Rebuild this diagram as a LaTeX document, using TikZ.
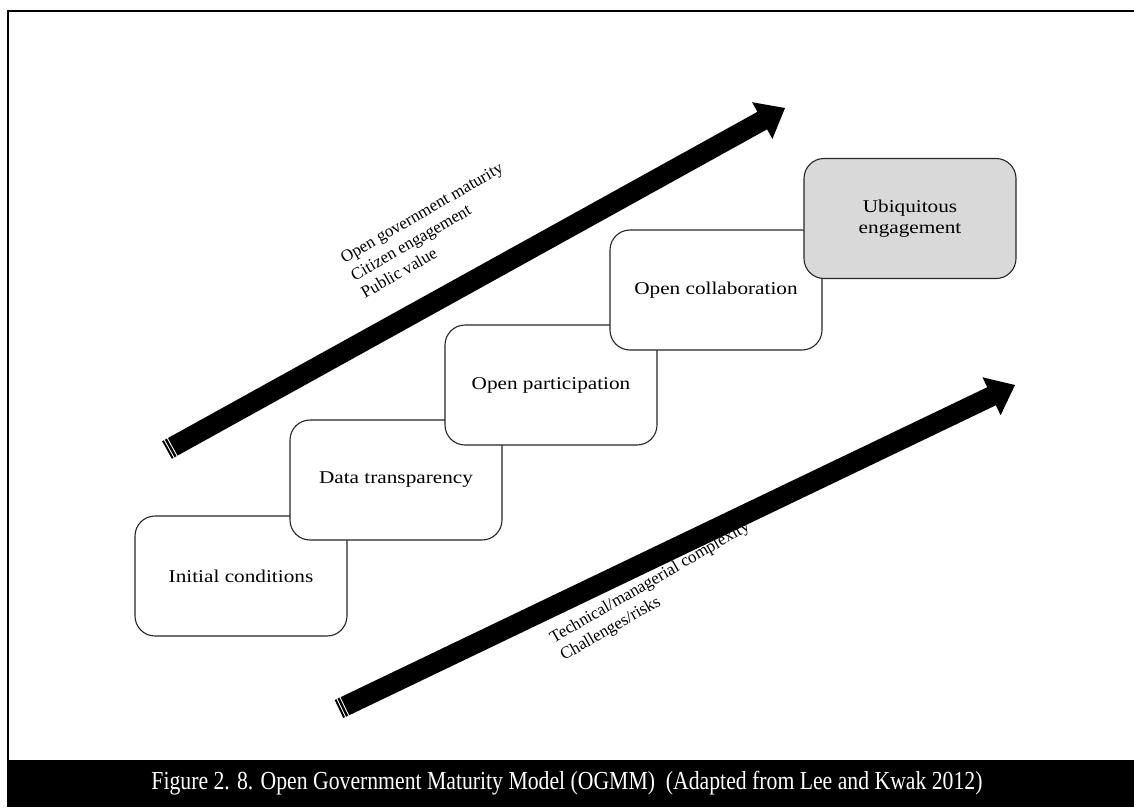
\documentclass[tikz,border=0pt]{standalone}
\usepackage{fontspec}
\usepackage{graphicx}
\setmainfont{Liberation Serif}
\newfontfamily\boxfont[FakeStretch=1.18]{Liberation Serif}
\usetikzlibrary{calc}

% thick block arrow from #1 (tail) to #2 (tip), with two thin stripes at the tail
\newcommand\fatarrow[2]{%
  \fill[black]
    ($(#1)!10pt!90:(#2)$) --
    ($(#2)!26pt!(#1)!10pt!90:(#2)$) --
    ($(#2)!26pt!(#1)!21pt!90:(#2)$) --
    (#2) --
    ($(#2)!26pt!(#1)!21pt!-90:(#2)$) --
    ($(#2)!26pt!(#1)!10pt!-90:(#2)$) --
    ($(#1)!10pt!-90:(#2)$) -- cycle;
  \foreach \d in {2.5,6} {
    \draw[stripe] ($(#1)!\d pt!(#2)!10.5pt!90:(#2)$) -- ($(#1)!\d pt!(#2)!10.5pt!-90:(#2)$);
  }%
}

\begin{document}
\begin{tikzpicture}[x=1pt,y=-1pt,
  stage/.style={draw=black!85, line width=1.1pt, rounded corners=20pt, fill=white,
    minimum width=212pt, minimum height=120pt, align=center, inner sep=0pt,
    font=\boxfont\fontsize{18}{21}\selectfont},
  stripe/.style={white, line width=0.9pt},
  slanted/.style={align=left, inner sep=0pt, anchor=base west,
    font=\fontsize{17}{20.5}\selectfont},
  caption/.style={text=white, inner sep=0pt, font=\fontsize{26}{28}\selectfont}
]
\useasboundingbox (0,0) rectangle (1134,807);

% frame and caption bar
\draw[line width=2pt] (8,760) -- (8,11) -- (1134,11);
\fill[black] (7,760) rectangle (1134,807);
\node[caption] (cap) at (567,783)
  {\resizebox{831pt}{\height}{Figure 2. 8. Open Government Maturity Model (OGMM)\ \ (Adapted from Lee and Kwak 2012)}};

% arrows
\coordinate (tailA) at (167,450);
\coordinate (tipA) at (785,108);
\coordinate (tailB) at (339,709);
\coordinate (tipB) at (1015,385);
\fatarrow{tailA}{tipA}
\fatarrow{tailB}{tipB}

% maturity stages
\node[stage] (s1) at (241,576) {Initial conditions};
\node[stage] (s2) at (396,480) {Data transparency};
\node[stage] (s3) at (551,385) {Open participation};
\node[stage] (s4) at (716,290) {Open collaboration};
\node[stage, fill=black!15] (s5) at (910,218.5) {Ubiquitous\\engagement};

% arrow labels (base anchor sits on the last line)
\node[slanted, rotate=30] (up) at (365,299)
  {Open government maturity\\Citizen engagement\\Public value};
\node[slanted, rotate=30] (low) at (564,661)
  {Technical/managerial complexity\\Challenges/risks};
\end{tikzpicture}
\end{document}
